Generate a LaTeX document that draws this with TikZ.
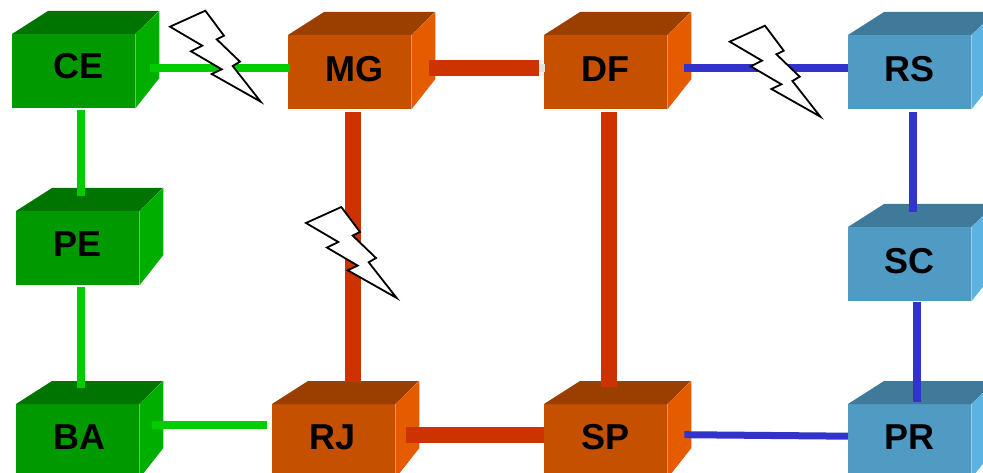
\documentclass[tikz,border=0pt]{standalone}
\usepackage{fontspec}
\setmainfont{Liberation Sans}

\definecolor{greenfront}{HTML}{009900}
\definecolor{greentop}{HTML}{007400}
\definecolor{greenside}{HTML}{00AE00}
\definecolor{orangefront}{HTML}{C45000}
\definecolor{orangetop}{HTML}{9A3F00}
\definecolor{orangeside}{HTML}{E55C00}
\definecolor{bluefront}{HTML}{4F9BC4}
\definecolor{bluetop}{HTML}{3F7A9B}
\definecolor{blueside}{HTML}{5AB3E3}
\definecolor{greenlink}{HTML}{00CC00}
\definecolor{redlink}{HTML}{CC3300}
\definecolor{bluelink}{HTML}{3333CC}
\definecolor{stublink}{HTML}{E0E0E0}

\tikzset{
	front/.style = {anchor = north west, minimum width = 123pt, minimum height = 74pt, inner sep = 0pt,
		text height = 26pt, text depth = 8pt, font = \bfseries\fontsize{36}{36}\selectfont},
	greenlinkline/.style = {draw = greenlink, line width = 8pt},
	redlinkline/.style = {draw = redlink, line width = 16pt},
	bluelinkline/.style = {draw = bluelink, line width = 8pt},
	pics/bolt/.style = {code = {
		\draw[fill = white, line width = 1.8pt, miter limit = 20]
			(205.3, 10.7) -- (170, 26.7) -- (202.3, 45.7) -- (191, 51.3) -- (221.7, 69.3) -- (211.7, 74)
			-- (260.7, 101.7) -- (232.7, 66) -- (240, 61.7) -- (216.7, 39.3) -- (224, 35.7) -- cycle;
	}}
}

\begin{document}
\begin{tikzpicture}[x = 1pt, y = -1pt]
	\useasboundingbox (0, 0) rectangle (983, 473);
	\clip (0, 0) rectangle (983, 473);

	\node[front, fill = greenfront] (CE) at (12, 34) {\hspace*{9pt}\raisebox{2pt}{CE}};
	\node[front, fill = greenfront] (PE) at (16, 211) {\raisebox{1pt}{PE}};
	\node[front, fill = greenfront] (BA) at (16, 404) {\hspace*{4pt}\raisebox{1pt}{BA}};
	\node[front, fill = orangefront] (MG) at (288, 35) {\hspace*{9pt}MG};
	\node[front, fill = orangefront] (RJ) at (272, 404) {\hspace*{-3pt}\raisebox{1pt}{RJ}};
	\node[front, fill = orangefront] (DF) at (544, 35) {DF};
	\node[front, fill = orangefront] (SP) at (544, 404) {\raisebox{1pt}{SP}};
	\node[front, fill = bluefront] (RS) at (848, 35) {RS};
	\node[front, fill = bluefront] (SC) at (848, 227) {SC};
	\node[front, fill = bluefront] (PR) at (848, 404) {\raisebox{1pt}{PR}};

	\foreach \n/\tone in {CE/green, PE/green, BA/green, MG/orange, RJ/orange, DF/orange, SP/orange, RS/blue, SC/blue, PR/blue}{
		\fill[\tone top] (\n.north west) -- ++(36, -23) -- ++(111, 0) -- (\n.north east) -- cycle;
		\fill[\tone side] (\n.north east) -- ++(24, -23) -- ++(0, 67) -- (\n.south east) -- cycle;
	}

	\draw[greenlinkline] ([xshift = 15pt, yshift = 3pt]CE.east) -- ([xshift = 2pt, yshift = 4pt]MG.west);
	\draw[greenlinkline] ([xshift = 7.5pt, yshift = -2pt]CE.south) -- ([xshift = 3.5pt, yshift = 15pt]PE.north);
	\draw[greenlinkline] ([xshift = 3.5pt, yshift = -2pt]PE.south) -- ([xshift = 3.5pt, yshift = 16pt]BA.north);
	\draw[greenlinkline] ([xshift = 13pt, yshift = 16pt]BA.east) -- ([xshift = -5pt, yshift = 16pt]RJ.west);

	\draw[stublink, line width = 8pt] ([xshift = 18pt, yshift = 4pt]MG.east) -- ([xshift = 1pt, yshift = 4pt]DF.west);
	\draw[redlinkline] ([xshift = 18pt, yshift = 4pt]MG.east) -- ([xshift = -5pt, yshift = 4pt]DF.west);
	\draw[redlinkline] ([xshift = 3.5pt, yshift = -3pt]MG.south) -- ([xshift = 19.5pt, yshift = 22pt]RJ.north);
	\draw[redlinkline] ([xshift = 3.5pt, yshift = -3pt]DF.south) -- ([xshift = 3.5pt, yshift = 17pt]SP.north);
	\draw[redlinkline] ([xshift = 11pt, yshift = 6pt]RJ.east) -- ([yshift = 6pt]SP.west);

	\draw[bluelinkline] ([xshift = 17pt, yshift = 4pt]DF.east) -- ([yshift = 4pt]RS.west);
	\draw[bluelinkline] ([xshift = 3.5pt, yshift = -3pt]RS.south) -- ([xshift = 3.5pt, yshift = 15pt]SC.north);
	\draw[bluelinkline] ([xshift = 7.5pt, yshift = -1pt]SC.south) -- ([xshift = 7.5pt, yshift = 2pt]PR.north);
	\draw[bluelinkline, line width = 7pt] ([xshift = 17pt, yshift = 6.5pt]SP.east) -- ([yshift = 5pt]PR.west);

	\pic at (0, 0) {bolt};
	\pic at (136, 196.3) {bolt};
	\pic at (559.7, 15) {bolt};
\end{tikzpicture}
\end{document}
